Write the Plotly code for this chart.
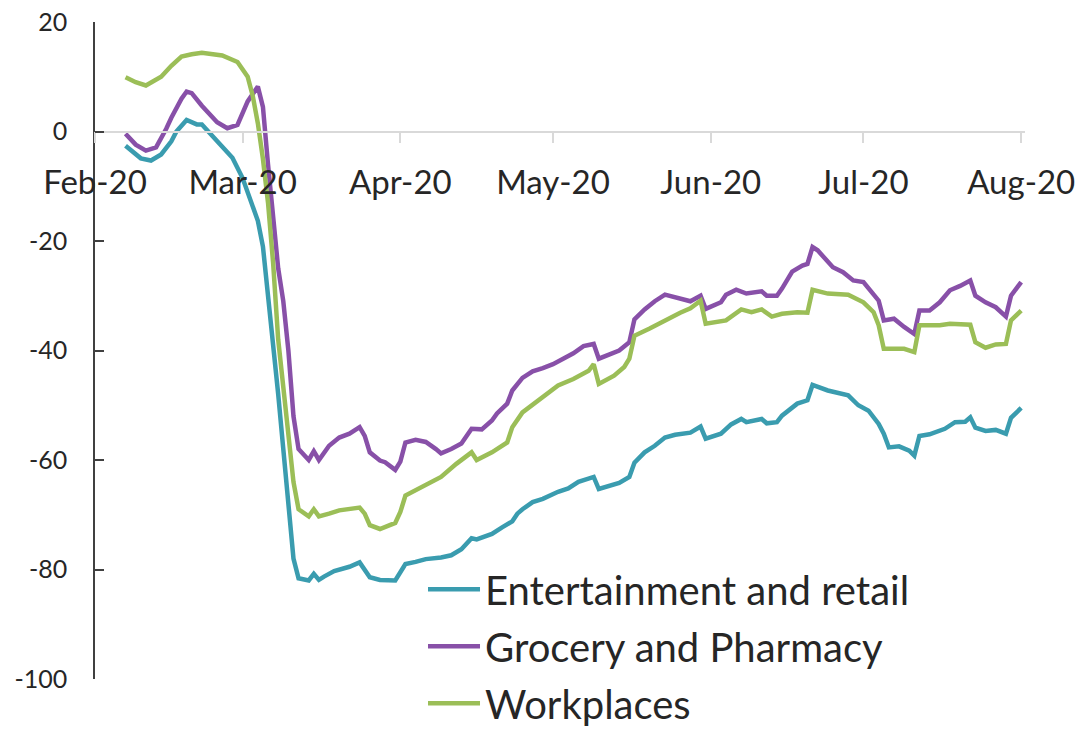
import plotly.graph_objects as go

# Entertainment and retail
ent_dates = [
    "2020-02-07", "2020-02-10", "2020-02-12", "2020-02-14", "2020-02-16", "2020-02-17",
    "2020-02-19", "2020-02-21", "2020-02-22", "2020-02-25", "2020-02-28", "2020-03-01",
    "2020-03-02", "2020-03-04", "2020-03-05", "2020-03-06", "2020-03-07", "2020-03-08",
    "2020-03-09", "2020-03-10", "2020-03-11", "2020-03-12", "2020-03-14", "2020-03-15",
    "2020-03-16", "2020-03-17", "2020-03-19", "2020-03-22", "2020-03-24", "2020-03-26",
    "2020-03-28", "2020-03-31", "2020-04-02", "2020-04-04", "2020-04-06", "2020-04-09",
    "2020-04-11", "2020-04-13", "2020-04-15", "2020-04-16", "2020-04-17", "2020-04-19",
    "2020-04-21", "2020-04-23", "2020-04-24", "2020-04-25", "2020-04-27", "2020-04-29",
    "2020-05-02", "2020-05-04", "2020-05-06", "2020-05-09", "2020-05-10", "2020-05-12",
    "2020-05-14", "2020-05-16", "2020-05-17", "2020-05-19", "2020-05-21", "2020-05-23",
    "2020-05-25", "2020-05-28", "2020-05-30", "2020-05-31", "2020-06-03", "2020-06-05",
    "2020-06-07", "2020-06-08", "2020-06-11", "2020-06-12", "2020-06-14", "2020-06-15",
    "2020-06-18", "2020-06-20", "2020-06-21", "2020-06-24", "2020-06-28", "2020-06-30",
    "2020-07-02", "2020-07-04", "2020-07-05", "2020-07-06", "2020-07-08", "2020-07-10",
    "2020-07-11", "2020-07-12", "2020-07-14", "2020-07-17", "2020-07-19", "2020-07-21",
    "2020-07-22", "2020-07-23", "2020-07-25", "2020-07-27", "2020-07-29", "2020-07-30",
    "2020-07-31", "2020-08-01",
]
ent_values = [
    -2.6, -4.9, -5.3, -4.2, -1.8, 0.0,
    2.1, 1.3, 1.3, -1.8, -4.8, -8.5,
    -11.0, -16.3, -21.0, -30.0, -38.0, -48.0,
    -58.0, -69.0, -78.0, -81.6, -82.0, -80.8,
    -81.9, -81.3, -80.3, -79.5, -78.7, -81.4,
    -81.9, -82.0, -79.0, -78.6, -78.1, -77.8,
    -77.4, -76.3, -74.3, -74.5, -74.2, -73.5,
    -72.3, -71.2, -69.8, -69.0, -67.7, -67.1,
    -65.8, -65.2, -64.0, -63.1, -65.3, -64.8,
    -64.2, -63.1, -60.5, -58.6, -57.4, -55.9,
    -55.4, -55.0, -53.9, -56.1, -55.2, -53.5,
    -52.5, -53.1, -52.5, -53.3, -53.1, -51.9,
    -49.7, -49.1, -46.3, -47.3, -48.2, -50.0,
    -51.0, -53.4, -55.2, -57.7, -57.5, -58.3,
    -59.2, -55.6, -55.3, -54.3, -53.1, -53.0,
    -52.2, -54.1, -54.7, -54.5, -55.2, -52.3,
    -51.4, -50.5,
]

# Grocery and Pharmacy
groc_dates = [
    "2020-02-07", "2020-02-09", "2020-02-11", "2020-02-13", "2020-02-15", "2020-02-16",
    "2020-02-18", "2020-02-19", "2020-02-20", "2020-02-22", "2020-02-25", "2020-02-27",
    "2020-02-29", "2020-03-02", "2020-03-04", "2020-03-05", "2020-03-06", "2020-03-07",
    "2020-03-08", "2020-03-09", "2020-03-10", "2020-03-11", "2020-03-12", "2020-03-14",
    "2020-03-15", "2020-03-16", "2020-03-18", "2020-03-20", "2020-03-22", "2020-03-24",
    "2020-03-25", "2020-03-26", "2020-03-28", "2020-03-29", "2020-03-31", "2020-04-01",
    "2020-04-02", "2020-04-04", "2020-04-06", "2020-04-08", "2020-04-09", "2020-04-11",
    "2020-04-13", "2020-04-15", "2020-04-17", "2020-04-19", "2020-04-20", "2020-04-22",
    "2020-04-23", "2020-04-25", "2020-04-27", "2020-04-29", "2020-05-01", "2020-05-03",
    "2020-05-05", "2020-05-07", "2020-05-09", "2020-05-10", "2020-05-12", "2020-05-14",
    "2020-05-16", "2020-05-17", "2020-05-19", "2020-05-21", "2020-05-23", "2020-05-25",
    "2020-05-28", "2020-05-30", "2020-05-31", "2020-06-03", "2020-06-04", "2020-06-06",
    "2020-06-08", "2020-06-11", "2020-06-12", "2020-06-14", "2020-06-15", "2020-06-17",
    "2020-06-19", "2020-06-20", "2020-06-21", "2020-06-22", "2020-06-25", "2020-06-27",
    "2020-06-29", "2020-07-01", "2020-07-04", "2020-07-05", "2020-07-07", "2020-07-09",
    "2020-07-11", "2020-07-12", "2020-07-14", "2020-07-16", "2020-07-18", "2020-07-20",
    "2020-07-22", "2020-07-23", "2020-07-25", "2020-07-27", "2020-07-29", "2020-07-30",
    "2020-08-01",
]
groc_values = [
    -0.4, -2.4, -3.5, -2.9, 0.5, 2.5,
    6.0, 7.3, 7.0, 4.7, 1.7, 0.6,
    1.2, 5.5, 8.2, 4.5, -6.0, -16.0,
    -25.0, -31.0, -40.0, -52.0, -58.0, -60.0,
    -58.4, -60.0, -57.4, -55.9, -55.2, -54.0,
    -55.6, -58.6, -60.1, -60.4, -61.8, -60.3,
    -56.8, -56.3, -56.7, -58.0, -58.8, -58.0,
    -57.0, -54.3, -54.4, -52.8, -51.5, -49.7,
    -47.3, -45.0, -43.8, -43.2, -42.5, -41.5,
    -40.5, -39.2, -38.8, -41.5, -40.8, -40.0,
    -38.5, -34.3, -32.5, -31.0, -29.8, -30.3,
    -31.0, -30.0, -32.4, -31.2, -29.8, -28.9,
    -29.6, -29.2, -30.0, -30.0, -28.7, -25.6,
    -24.5, -24.2, -21.1, -21.7, -24.8, -25.7,
    -27.2, -27.5, -30.9, -34.5, -34.2, -35.7,
    -37.0, -32.7, -32.7, -31.2, -29.0, -28.2,
    -27.2, -30.0, -31.2, -32.1, -33.8, -30.0,
    -27.5,
]

# Workplaces
work_dates = [
    "2020-02-07", "2020-02-09", "2020-02-11", "2020-02-14", "2020-02-16", "2020-02-18",
    "2020-02-20", "2020-02-22", "2020-02-26", "2020-02-28", "2020-02-29", "2020-03-02",
    "2020-03-03", "2020-03-04", "2020-03-05", "2020-03-06", "2020-03-07", "2020-03-08",
    "2020-03-09", "2020-03-10", "2020-03-11", "2020-03-12", "2020-03-14", "2020-03-15",
    "2020-03-16", "2020-03-18", "2020-03-20", "2020-03-24", "2020-03-25", "2020-03-26",
    "2020-03-28", "2020-03-31", "2020-04-01", "2020-04-02", "2020-04-05", "2020-04-09",
    "2020-04-12", "2020-04-15", "2020-04-16", "2020-04-19", "2020-04-22", "2020-04-23",
    "2020-04-25", "2020-04-28", "2020-05-02", "2020-05-05", "2020-05-08", "2020-05-09",
    "2020-05-10", "2020-05-13", "2020-05-15", "2020-05-16", "2020-05-17", "2020-05-20",
    "2020-05-23", "2020-05-26", "2020-05-28", "2020-05-30", "2020-05-31", "2020-06-04",
    "2020-06-07", "2020-06-09", "2020-06-11", "2020-06-13", "2020-06-15", "2020-06-18",
    "2020-06-20", "2020-06-21", "2020-06-24", "2020-06-28", "2020-07-01", "2020-07-03",
    "2020-07-04", "2020-07-05", "2020-07-09", "2020-07-11", "2020-07-12", "2020-07-16",
    "2020-07-18", "2020-07-22", "2020-07-23", "2020-07-25", "2020-07-27", "2020-07-29",
    "2020-07-30", "2020-08-01",
]
work_values = [
    9.9, 9.0, 8.4, 10.0, 12.0, 13.7,
    14.1, 14.4, 13.9, 13.2, 12.7, 10.0,
    6.5, 1.5, -5.0, -13.0, -24.0, -38.0,
    -47.0, -56.0, -64.0, -69.0, -70.3, -69.0,
    -70.3, -69.8, -69.2, -68.7, -69.8, -71.9,
    -72.6, -71.5, -69.5, -66.5, -65.0, -63.1,
    -60.7, -58.6, -60.0, -58.6, -56.8, -54.0,
    -51.3, -49.2, -46.4, -45.2, -43.7, -42.5,
    -46.1, -44.6, -43.0, -41.5, -37.3, -36.0,
    -34.5, -33.1, -32.3, -30.9, -35.1, -34.5,
    -32.5, -33.0, -32.5, -33.8, -33.3, -33.0,
    -33.1, -28.9, -29.6, -29.8, -31.2, -33.0,
    -35.4, -39.7, -39.7, -40.3, -35.4, -35.4,
    -35.1, -35.3, -38.5, -39.5, -38.9, -38.8,
    -34.5, -32.7,
]

series = [
    ("Entertainment and retail", ent_dates, ent_values, "#3A9CAF"),
    ("Grocery and Pharmacy", groc_dates, groc_values, "#8850A8"),
    ("Workplaces", work_dates, work_values, "#9BBE57"),
]

y_ticks = [-100, -80, -60, -40, -20, 0, 20]
y_tick_text = [str(v) for v in y_ticks]

fig = go.Figure()
for i, (name, xs, ys, color) in enumerate(series):
    fig.add_trace(go.Scatter(
        x=xs, y=ys, name=name, mode="lines",
        legendgroup=f"g{i}",
        line=dict(color=color, width=4.5, shape="linear"),
    ))

font_family = "Lato, 'Open Sans', sans-serif"

fig.update_layout(
    width=1076, height=733,
    margin=dict(l=95, r=51, t=22, b=54, autoexpand=False),
    paper_bgcolor="white", plot_bgcolor="white",
    font=dict(family=font_family, color="#262626"),
    showlegend=True,
    legend=dict(
        x=0.3527, y=0.186, xanchor="left", yanchor="top",
        font=dict(size=40, color="#262626", family=font_family),
        bgcolor="rgba(0,0,0,0)", borderwidth=0,
        tracegroupgap=2, itemwidth=52,
    ),
    xaxis=dict(
        type="date",
        range=["2020-02-01", "2020-08-01 18:00"],
        tick0="2020-02-01", dtick="M1", tickformat="%b-%y",
        anchor="free", position=100 / 120,
        showline=True, linecolor="#d9d9d9", linewidth=1.5,
        ticks="outside", ticklen=11, tickcolor="#d9d9d9", tickwidth=1.5,
        tickfont=dict(size=33, color="#262626"),
        ticklabelstandoff=11, ticklabeloverflow="allow",
        showgrid=False, zeroline=False,
    ),
    yaxis=dict(
        range=[-100, 20],
        tickvals=y_ticks, ticktext=y_tick_text,
        showline=True, linecolor="#404040", linewidth=1.5,
        ticks="inside", ticklen=9, tickcolor="#404040", tickwidth=1.5,
        tickfont=dict(size=25, color="#262626"),
        ticklabelstandoff=21,
        showgrid=False, zeroline=False,
    ),
)

fig.write_html("out.html")
